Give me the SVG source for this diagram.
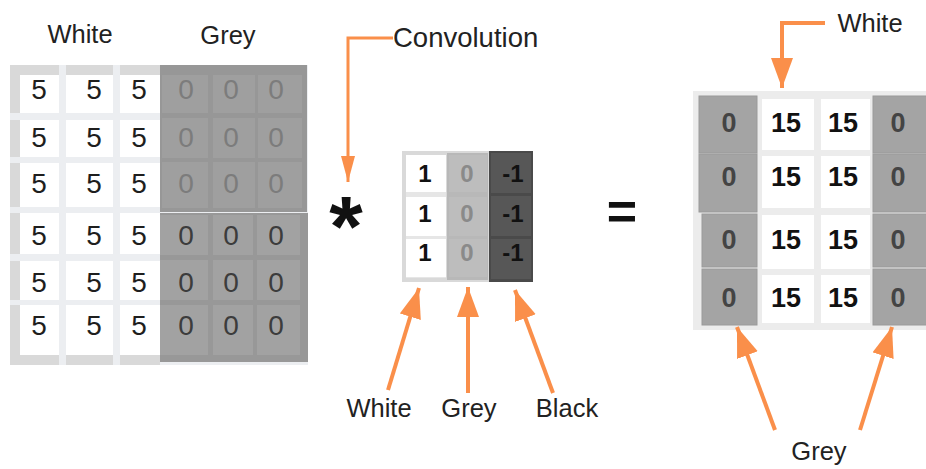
<svg xmlns="http://www.w3.org/2000/svg" width="926" height="469" viewBox="0 0 926 469">
<defs>
<style>
text{font-family:"Liberation Sans",Arial,sans-serif}
.lbl{font-size:25.5px;fill:#222;text-anchor:middle}
.n5{font-size:28px;fill:#1e1e1e;text-anchor:middle}
.z1{font-size:28px;fill:#7c7c7c;text-anchor:middle}
.z2{font-size:28px;fill:#3c3c3c;text-anchor:middle}
.k{font-size:24px;font-weight:bold;text-anchor:middle}
.r{font-size:27px;font-weight:bold;text-anchor:middle}
.wc{fill:#ffffff}
.gs{fill:#d9d9d9}
.arr{fill:none;stroke:#fa8f4a;stroke-width:4}
.arr2{fill:none;stroke:#fa8f4a;stroke-width:3}
</style>
<marker id="ah" markerUnits="userSpaceOnUse" markerWidth="32" markerHeight="24" refX="30" refY="11" orient="auto">
<path d="M0,0 L30,11 L0,22 z" fill="#fa8f4a"/>
</marker>
<marker id="ahn" markerUnits="userSpaceOnUse" markerWidth="28" markerHeight="16" refX="26" refY="7" orient="auto">
<path d="M0,0 L26,7 L0,14 z" fill="#fa8f4a"/>
</marker>
</defs>
<rect width="926" height="469" fill="#ffffff"/>

<g id="input-image">
<text class="lbl" x="80" y="43">White</text>
<text class="lbl" x="228" y="44">Grey</text>
<rect x="10" y="65" width="298" height="300" fill="#eceef1"/>
<rect class="gs" x="10" y="65" width="49" height="10"/>
<rect class="gs" x="66" y="65" width="47" height="10"/>
<rect class="gs" x="120" y="65" width="40" height="10"/>
<rect class="gs" x="10" y="75" width="10" height="38"/>
<rect class="gs" x="10" y="120" width="10" height="37"/>
<rect class="gs" x="10" y="163" width="10" height="44"/>
<rect class="gs" x="10" y="213" width="10" height="41"/>
<rect class="gs" x="10" y="261" width="10" height="39"/>
<rect class="gs" x="10" y="305" width="10" height="60"/>
<rect class="gs" x="10" y="355" width="49" height="10"/>
<rect class="gs" x="66" y="355" width="47" height="10"/>
<rect class="gs" x="120" y="355" width="40" height="10"/>
<g class="wc">
<rect x="20" y="75" width="39" height="38"/><rect x="66" y="75" width="47" height="38"/><rect x="120" y="75" width="40" height="38"/>
<rect x="20" y="120" width="39" height="37"/><rect x="66" y="120" width="47" height="37"/><rect x="120" y="120" width="40" height="37"/>
<rect x="20" y="163" width="39" height="44"/><rect x="66" y="163" width="47" height="44"/><rect x="120" y="163" width="40" height="44"/>
<rect x="20" y="213" width="39" height="41"/><rect x="66" y="213" width="47" height="41"/><rect x="120" y="213" width="40" height="41"/>
<rect x="20" y="261" width="39" height="39"/><rect x="66" y="261" width="47" height="39"/><rect x="120" y="261" width="40" height="39"/>
<rect x="20" y="305" width="39" height="50"/><rect x="66" y="305" width="47" height="50"/><rect x="120" y="305" width="40" height="50"/>
</g>
<rect x="160" y="65" width="147" height="147" fill="#979797"/>
<g fill="#9f9f9f">
<rect x="162" y="75" width="46" height="38"/><rect x="213" y="75" width="42" height="38"/><rect x="258" y="75" width="44" height="38"/>
<rect x="162" y="118" width="46" height="40"/><rect x="213" y="118" width="42" height="40"/><rect x="258" y="118" width="44" height="40"/>
<rect x="162" y="162" width="46" height="46"/><rect x="213" y="162" width="42" height="46"/><rect x="258" y="162" width="44" height="46"/>
</g>
<rect x="160" y="213" width="148" height="149" fill="#989898"/>
<g fill="#a2a2a2">
<rect x="160" y="215" width="48" height="40"/><rect x="213" y="215" width="40" height="40"/><rect x="257" y="215" width="43" height="40"/>
<rect x="160" y="260" width="48" height="40"/><rect x="213" y="260" width="40" height="40"/><rect x="257" y="260" width="43" height="40"/>
<rect x="160" y="305" width="48" height="50"/><rect x="213" y="305" width="40" height="50"/><rect x="257" y="305" width="43" height="50"/>
</g>
<text class="n5" x="39" y="99">5</text><text class="n5" x="94" y="99">5</text><text class="n5" x="139" y="99">5</text>
<text class="n5" x="39" y="147">5</text><text class="n5" x="94" y="147">5</text><text class="n5" x="139" y="147">5</text>
<text class="n5" x="39" y="193">5</text><text class="n5" x="94" y="193">5</text><text class="n5" x="139" y="193">5</text>
<text class="n5" x="39" y="245">5</text><text class="n5" x="94" y="245">5</text><text class="n5" x="139" y="245">5</text>
<text class="n5" x="39" y="292">5</text><text class="n5" x="94" y="292">5</text><text class="n5" x="139" y="292">5</text>
<text class="n5" x="39" y="335">5</text><text class="n5" x="94" y="335">5</text><text class="n5" x="139" y="335">5</text>
<text class="z1" x="186" y="99">0</text><text class="z1" x="231" y="99">0</text><text class="z1" x="276" y="99">0</text>
<text class="z1" x="186" y="147">0</text><text class="z1" x="231" y="147">0</text><text class="z1" x="276" y="147">0</text>
<text class="z1" x="186" y="193">0</text><text class="z1" x="231" y="193">0</text><text class="z1" x="276" y="193">0</text>
<text class="z2" x="186" y="245">0</text><text class="z2" x="231" y="245">0</text><text class="z2" x="276" y="245">0</text>
<text class="z2" x="186" y="292">0</text><text class="z2" x="231" y="292">0</text><text class="z2" x="276" y="292">0</text>
<text class="z2" x="186" y="335">0</text><text class="z2" x="231" y="335">0</text><text class="z2" x="276" y="335">0</text>
</g>

<g id="operator-star">
<text x="346" y="256" font-size="86" font-weight="bold" fill="#111" text-anchor="middle">*</text>
</g>

<g id="kernel">
<rect x="402" y="151" width="131" height="131" fill="#d9d9d9"/>
<rect x="406" y="155" width="40" height="123" fill="#e6e6e6"/>
<rect class="wc" x="406" y="155" width="40" height="37"/>
<rect class="wc" x="406" y="197" width="40" height="39"/>
<rect class="wc" x="406" y="239" width="40" height="38"/>
<rect x="447" y="153" width="41" height="127" fill="#b8b8b8"/>
<rect x="449" y="155" width="38" height="37" fill="#bdbdbd"/>
<rect x="449" y="197" width="38" height="39" fill="#bdbdbd"/>
<rect x="449" y="239" width="38" height="38" fill="#bdbdbd"/>
<rect x="489" y="151" width="44" height="131" fill="#4a4a4a"/>
<rect x="491" y="153" width="40" height="40" fill="#575757"/>
<rect x="491" y="196" width="40" height="40" fill="#575757"/>
<rect x="491" y="239" width="40" height="40" fill="#575757"/>
<text class="k" x="425" y="182" fill="#111">1</text>
<text class="k" x="425" y="222" fill="#111">1</text>
<text class="k" x="425" y="261" fill="#111">1</text>
<text class="k" x="467" y="182" fill="#8a8a8a">0</text>
<text class="k" x="467" y="222" fill="#8a8a8a">0</text>
<text class="k" x="467" y="261" fill="#8a8a8a">0</text>
<text class="k" x="513" y="182" fill="#111">-1</text>
<text class="k" x="513" y="222" fill="#111">-1</text>
<text class="k" x="513" y="261" fill="#111">-1</text>
</g>

<g id="operator-equals">
<text x="622" y="229" font-size="52" font-weight="bold" fill="#111" text-anchor="middle">=</text>
</g>

<g id="result">
<rect x="693" y="91" width="233" height="239" fill="#ececec"/>
<g fill="#a4a4a4" stroke="#9a9a9a" stroke-width="1">
<rect x="699" y="96" width="58" height="57"/>
<rect x="699" y="154" width="58" height="58"/>
<rect x="702" y="214" width="55" height="53"/>
<rect x="702" y="269" width="55" height="56"/>
<rect x="873" y="96" width="60" height="57"/>
<rect x="873" y="154" width="60" height="58"/>
<rect x="873" y="214" width="60" height="53"/>
<rect x="873" y="269" width="60" height="56"/>
</g>
<g class="wc">
<rect x="762" y="99" width="52" height="51"/><rect x="821" y="99" width="49" height="51"/>
<rect x="762" y="156" width="52" height="52"/><rect x="821" y="156" width="49" height="52"/>
<rect x="762" y="215" width="52" height="54"/><rect x="821" y="215" width="49" height="54"/>
<rect x="762" y="275" width="52" height="48"/><rect x="821" y="275" width="49" height="48"/>
</g>
<text class="r" x="729" y="132" fill="#444">0</text><text class="r" x="786" y="132" fill="#111">15</text><text class="r" x="843" y="132" fill="#111">15</text><text class="r" x="898" y="132" fill="#444">0</text>
<text class="r" x="729" y="186" fill="#444">0</text><text class="r" x="786" y="186" fill="#111">15</text><text class="r" x="843" y="186" fill="#111">15</text><text class="r" x="898" y="186" fill="#444">0</text>
<text class="r" x="729" y="249" fill="#444">0</text><text class="r" x="786" y="249" fill="#111">15</text><text class="r" x="843" y="249" fill="#111">15</text><text class="r" x="898" y="249" fill="#444">0</text>
<text class="r" x="729" y="307" fill="#444">0</text><text class="r" x="786" y="307" fill="#111">15</text><text class="r" x="843" y="307" fill="#111">15</text><text class="r" x="898" y="307" fill="#444">0</text>
</g>

<g id="labels">
<text x="393" y="47" font-size="27.5" fill="#222">Convolution</text>
<text class="lbl" x="870" y="32">White</text>
<text class="lbl" x="379" y="417">White</text>
<text class="lbl" x="469" y="417">Grey</text>
<text class="lbl" x="567" y="417">Black</text>
<text class="lbl" x="819" y="460">Grey</text>
</g>

<g id="connectors">
<path class="arr2" d="M393,38 H348 V182" marker-end="url(#ahn)"/>
<path class="arr" d="M825,23 H782 V88" marker-end="url(#ah)"/>
<path class="arr" d="M388,390 L419,288" marker-end="url(#ah)"/>
<path class="arr" d="M468,393 L468,287" marker-end="url(#ah)"/>
<path class="arr" d="M553,393 L515,290" marker-end="url(#ah)"/>
<path class="arr" d="M775,430 L737,327" marker-end="url(#ah)"/>
<path class="arr" d="M860,430 L892,327" marker-end="url(#ah)"/>
</g>
</svg>
